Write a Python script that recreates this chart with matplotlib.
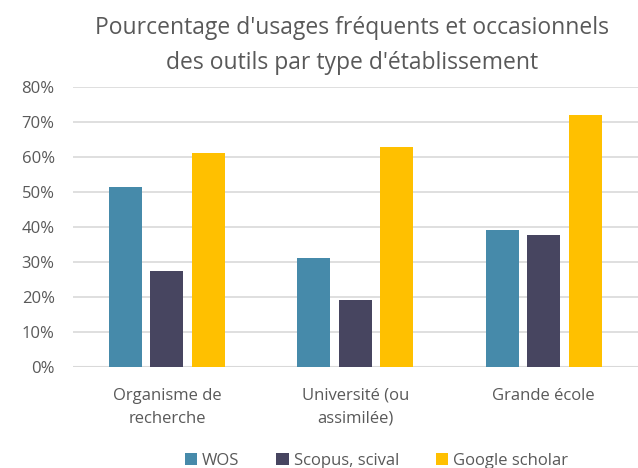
import numpy as np
import matplotlib.pyplot as plt

plt.rcParams['font.family'] = ['Open Sans', 'DejaVu Sans']

categories = ['Organisme de\nrecherche', 'Université (ou\nassimilée)', 'Grande école']
series = ['WOS', 'Scopus, scival', 'Google scholar']
wos = [51.4, 31.2, 39.2]
scopus = [27.3, 19.1, 37.6]
google = [61.2, 62.9, 72.1]
colors = ['#468aaa', '#474560', '#ffc000']
grey = '#595959'

fig = plt.figure(figsize=(6.38, 4.68), dpi=100)
ax = fig.add_axes([0.114, 0.216, 0.886, 0.598])

x = np.arange(len(categories))
w = 0.175
step = 0.22
for i, (vals, name) in enumerate(zip([wos, scopus, google], series)):
    ax.bar(x + (i - 1) * step, vals, w, color=colors[i], label=name, zorder=3)

ax.set_xlim(-0.5, 2.5)
ax.set_ylim(0, 80)
ax.set_yticks(range(0, 81, 10))
ax.set_yticklabels([f'{v}%' for v in range(0, 81, 10)], color=grey, fontsize=12)
ax.set_xticks(x)
ax.set_xticklabels(categories, color=grey, fontsize=12, linespacing=1.6)
ax.tick_params(axis='y', length=0, pad=13)
ax.tick_params(axis='x', length=0, pad=15)
ax.grid(axis='y', color='#d9d9d9', linewidth=1.2, zorder=0)
for s in ax.spines.values():
    s.set_visible(False)
ax.axhline(0, color='#d9d9d9', linewidth=1.5, zorder=2)

fig.text(0.552, 0.903, "Pourcentage d'usages fréquents et occasionnels\ndes outils par type d'établissement",
         ha='center', va='center', fontsize=16.5, color=grey, linespacing=1.6)

fig.legend(loc='center', bbox_to_anchor=(0.59, 0.016), ncol=3, frameon=False,
           fontsize=12, labelcolor=grey, handlelength=0.75, handleheight=0.75,
           handletextpad=0.3, columnspacing=2.2)

fig.savefig('out.png', dpi=100)
